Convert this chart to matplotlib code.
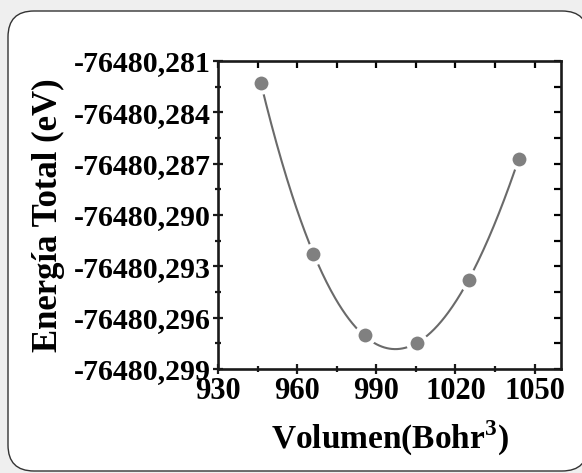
import matplotlib.pyplot as plt
import numpy as np
from matplotlib.patches import FancyBboxPatch
from matplotlib.ticker import MultipleLocator, FuncFormatter

plt.rcParams['font.family'] = ['Liberation Serif', 'DejaVu Serif']
plt.rcParams['font.weight'] = 'bold'
plt.rcParams['mathtext.fontset'] = 'custom'
plt.rcParams['mathtext.bf'] = 'Liberation Serif:bold'
plt.rcParams['mathtext.rm'] = 'Liberation Serif:bold'

# Volume (Bohr^3) vs total energy (eV)
volumen = [946.3, 966.1, 985.7, 1005.4, 1025.0, 1044.0]
energia = [-76480.2823, -76480.2923, -76480.2970, -76480.2975, -76480.2938, -76480.2867]

x_ticks = [930, 960, 990, 1020, 1050]
y_ticks = [-76480.299, -76480.296, -76480.293, -76480.290, -76480.287, -76480.284, -76480.281]

fig = plt.figure(figsize=(5.82, 4.73), dpi=100)
fig.patch.set_facecolor('#efefef')

# rounded white frame behind the plot
frame = FancyBboxPatch((0.08, 0.02), 5.80, 4.60,
                       boxstyle='round,pad=0,rounding_size=0.26',
                       transform=fig.dpi_scale_trans,
                       facecolor='white', edgecolor='#333333', linewidth=1.0,
                       zorder=-1)
fig.add_artist(frame)

ax = fig.add_axes([0.3746, 0.2199, 0.9639 - 0.3746, 0.871 - 0.2199])

# fitted curve through the points (offset to keep the fit well conditioned)
v = np.array(volumen)
e = np.array(energia)
e0 = e.mean()
coef = np.polyfit(v, e - e0, 3)
v_fit = np.linspace(v.min(), v.max(), 300)
ax.plot(v_fit, np.polyval(coef, v_fit) + e0, color='#6a6a6a', lw=1.5, zorder=2)

ax.plot(v, e, 'o', ms=13, mfc='#808080', mec='white', mew=3, zorder=3)

ax.set_xlim(930, 1060)
ax.set_ylim(-76480.299, -76480.281)
ax.set_xticks(x_ticks)
ax.set_yticks(y_ticks)
ax.xaxis.set_minor_locator(MultipleLocator(15))
ax.yaxis.set_minor_locator(MultipleLocator(0.0015))
ax.yaxis.set_major_formatter(FuncFormatter(lambda val, pos: f'{val:.3f}'.replace('.', ',')))

for s in ax.spines.values():
    s.set_linewidth(1.9)
    s.set_color('#1a1a1a')

ax.tick_params(which='both', direction='inout', width=1.6, color='#1a1a1a', pad=2)
ax.tick_params(axis='x', labelsize=22, pad=2.5)
ax.tick_params(axis='y', labelsize=21.5)
ax.tick_params(which='major', length=7)
ax.tick_params(which='minor', length=5)

# ticks on top and right pointing inward
top = ax.secondary_xaxis('top')
top.set_xticks(x_ticks)
top.xaxis.set_minor_locator(MultipleLocator(15))
top.tick_params(which='both', direction='in', length=5, width=1.6, labeltop=False)
top.spines['top'].set_visible(False)
right = ax.secondary_yaxis('right')
right.set_yticks(y_ticks)
right.yaxis.set_minor_locator(MultipleLocator(0.0015))
right.tick_params(which='both', direction='in', length=5, width=1.6, labelright=False)
right.spines['right'].set_visible(False)

ax.set_xlabel(r'Volumen(Bohr$^{\mathbf{3}}$)', fontsize=24, fontweight='bold', labelpad=9)
ax.set_ylabel('Energía Total (eV)', fontsize=25, fontweight='bold', labelpad=6)

fig.savefig('out.png', dpi=100, facecolor=fig.get_facecolor())
